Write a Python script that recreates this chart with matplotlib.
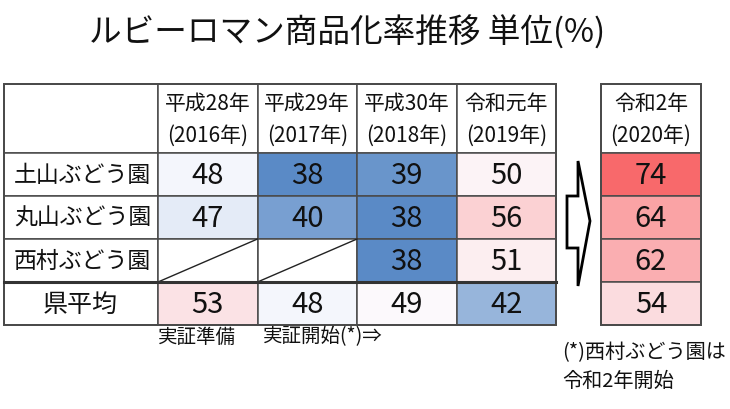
import matplotlib
matplotlib.use("Agg")
import matplotlib.pyplot as plt
import numpy as np
from matplotlib.patches import Rectangle, Polygon
from matplotlib.colors import LinearSegmentedColormap, TwoSlopeNorm

plt.rcParams['font.family'] = ['Noto Sans CJK JP', 'DejaVu Sans']

# data
farms = ['土山ぶどう園', '丸山ぶどう園', '西村ぶどう園', '県平均']
years = ['平成28年\n(2016年)', '平成29年\n(2017年)', '平成30年\n(2018年)', '令和元年\n(2019年)']
year_2020 = '令和2年\n(2020年)'
rates = [[48, 38, 39, 50],
         [47, 40, 38, 56],
         [None, None, 38, 51],
         [53, 48, 49, 42]]
rates_2020 = [74, 64, 62, 54]

# layout (pixels)
W, H = 730, 410
x_left, x_lab = 4, 158
col_w = 99.5
x_right0, col_w2 = 601, 100
y_top, y_head = 85, 154
row_h = 43

allv = [v for r in rates for v in r if v is not None] + rates_2020
cmap = LinearSegmentedColormap.from_list('rwb', ['#5A8AC6', '#FCFCFF', '#F8696B'])
norm = TwoSlopeNorm(vmin=min(allv), vcenter=np.median(allv), vmax=max(allv))

fig = plt.figure(figsize=(W / 100, H / 100), dpi=100)
ax = fig.add_axes([0, 0, 1, 1])
ax.set_xlim(0, W)
ax.set_ylim(H, 0)
ax.axis('off')

line_c = '#4a4a4a'
lw = 1.1

ax.text(347, 33, 'ルビーロマン商品化率推移 単位(%)', fontsize=23.5, ha='center', va='center', color='#111111')

def cell(x, y, w, h, val):
    fc = 'white' if val is None else cmap(norm(val))
    ax.add_patch(Rectangle((x, y), w, h, facecolor=fc, edgecolor=line_c, lw=lw))
    if val is None:
        ax.plot([x, x + w], [y + h, y], color='#222222', lw=1.0)
    else:
        ax.text(x + w / 2, y + h / 2 + 1, str(val), fontsize=21, ha='center', va='center', color='#111111')

# main table
ax.add_patch(Rectangle((x_left, y_top), x_lab - x_left, y_head - y_top, facecolor='white', edgecolor=line_c, lw=lw))
for j, yr in enumerate(years):
    x = x_lab + j * col_w
    ax.add_patch(Rectangle((x, y_top), col_w, y_head - y_top, facecolor='white', edgecolor=line_c, lw=lw))
    for k, part in enumerate(yr.split('\n')):
        ax.text(x + col_w / 2, y_top + 19 + k * 32, part, fontsize=15, ha='center', va='center', color='#111111')

for i, farm in enumerate(farms):
    y = y_head + i * row_h
    ax.add_patch(Rectangle((x_left, y), x_lab - x_left, row_h, facecolor='white', edgecolor=line_c, lw=lw))
    if i == len(farms) - 1:
        ax.text(80, y + row_h / 2, farm, fontsize=18, ha='center', va='center', color='#111111')
    else:
        ax.text(x_left + 10, y + row_h / 2, farm, fontsize=16.5, ha='left', va='center', color='#111111')
    for j in range(len(years)):
        cell(x_lab + j * col_w, y, col_w, row_h, rates[i][j])

x_end = x_lab + len(years) * col_w
y_end = y_head + len(farms) * row_h
ax.add_patch(Rectangle((x_left, y_top), x_end - x_left, y_end - y_top, fill=False, edgecolor=line_c, lw=1.4))
ax.plot([x_left, x_end], [y_head + 3 * row_h] * 2, color='#333333', lw=2.2)

# 2020 table
ax.add_patch(Rectangle((x_right0, y_top), col_w2, y_head - y_top, facecolor='white', edgecolor=line_c, lw=lw))
for k, part in enumerate(year_2020.split('\n')):
    ax.text(x_right0 + col_w2 / 2, y_top + 19 + k * 32, part, fontsize=15, ha='center', va='center', color='#111111')
for i, v in enumerate(rates_2020):
    cell(x_right0, y_head + i * row_h, col_w2, row_h, v)
ax.add_patch(Rectangle((x_right0, y_top), col_w2, y_end - y_top, fill=False, edgecolor=line_c, lw=1.4))

# arrow
arrow = Polygon([(567, 197), (578, 197), (578, 162), (590, 222), (578, 287), (578, 249), (567, 249)],
                closed=True, facecolor='white', edgecolor='black', lw=2.0, joinstyle='miter')
ax.add_patch(arrow)

# notes
ax.text(158, 337, '実証準備', fontsize=14, ha='left', va='center', color='#111111')
ax.text(263, 337, '実証開始(*)⇒', fontsize=14, ha='left', va='center', color='#111111')
ax.text(562, 353, '(*)西村ぶどう園は', fontsize=14.5, ha='left', va='center', color='#111111')
ax.text(562, 381, '令和2年開始', fontsize=14.5, ha='left', va='center', color='#111111')

fig.savefig('out.png', dpi=100)
